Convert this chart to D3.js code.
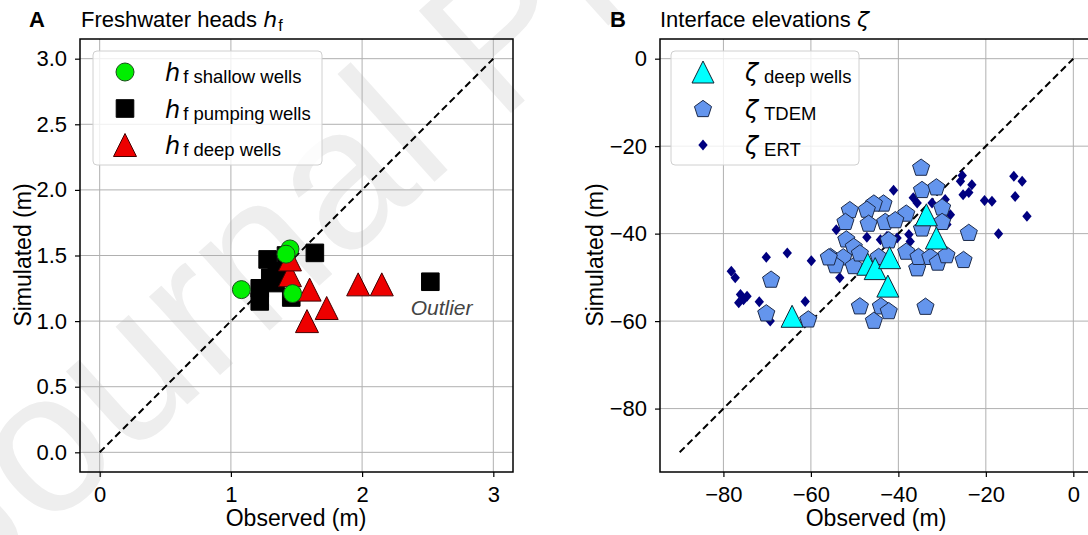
<!DOCTYPE html>
<html><head><meta charset="utf-8">
<script src="https://cdn.jsdelivr.net/npm/d3@7"></script>
<style>body{margin:0;background:#fff;} svg{display:block;font-family:"Liberation Sans",Arial,sans-serif;}</style>
</head><body><svg id="c" width="1088" height="535"></svg>
<script>
// ---- Panel A data: freshwater heads (m) ----
const shallowObs = [1.08, 1.47, 1.45, 1.42];
const shallowSim = [1.24, 1.21, 1.55, 1.51];
const pumpingObs = [1.28, 1.35, 1.22, 1.22, 1.34, 1.46, 1.64, 2.52, 1.30, 1.42];
const pumpingSim = [1.47, 1.38, 1.25, 1.15, 1.29, 1.18, 1.52, 1.30, 1.33, 1.50];
const deepHObs = [1.45, 1.45, 1.60, 1.73, 1.58, 1.97, 2.15];
const deepHSim = [1.35, 1.47, 1.24, 1.10, 1.00, 1.28, 1.28];
const ticksA = [0.0, 0.5, 1.0, 1.5, 2.0, 2.5, 3.0];
const xticksA = [0, 1, 2, 3];

// ---- Panel B data: interface elevations (m) ----
const deepZObs = [-64.3, -47.0, -45.3, -42.0, -42.4, -33.6, -31.3];
const deepZSim = [-58.9, -47.0, -48.0, -45.5, -52.0, -35.7, -41.0];
const tdemObs = [-34.8, -34.6, -31.3, -30.0, -30.0, -38.2, -43.4, -45.6, -47.2, -51.1, -52.1, -46.8, -43.0, -40.7, -34.6, -23.9,
  -51.9, -50.2, -55.5, -52.6, -50.2, -48.8, -38.2, -35.7, -35.4, -32.7, -31.0, -29.0, -25.1, -48.8, -44.0, -42.2, -45.6, -33.8,
  -44.5, -54.4, -42.2, -69.1, -70.2, -60.6, -55.9];
const tdemSim = [-24.8, -29.9, -29.3, -33.9, -37.2, -35.3, -33.0, -33.0, -34.4, -34.5, -37.2, -37.6, -37.2, -36.8, -38.7, -39.7,
  -41.2, -42.9, -45.2, -45.3, -47.3, -44.4, -44.0, -47.8, -45.2, -45.2, -46.5, -44.8, -45.9, -56.5, -56.5, -57.6, -59.8, -56.6,
  -45.2, -47.1, -41.4, -50.4, -58.1, -59.5, -45.3];
const ertObs = [-78.2, -77.3, -70.2, -65.4, -59.9, -76.1, -75.4, -76.5, -74.6, -71.8, -61.3, -69.3,
  -41.1, -36.6, -35.7, -25.4, -25.8, -23.2, -23.9, -25.2, -20.3, -18.6, -13.6, -11.7, -13.3, -10.6, -17.1,
  -54.2, -47.2, -44.1, -42.6, -40.3, -37.6, -37.3, -29.3, -28.1, -28.9, -53.4, -54.0, -32.3];
const ertSim = [-48.6, -50.1, -45.4, -44.4, -46.2, -53.9, -55.1, -55.8, -54.3, -55.6, -55.5, -60.0,
  -30.1, -31.8, -33.0, -26.7, -28.0, -28.8, -30.6, -31.1, -32.4, -32.6, -26.9, -28.0, -31.5, -36.0, -40.0,
  -39.1, -40.8, -41.4, -40.6, -41.0, -40.2, -41.8, -32.2, -35.7, -37.9, -50.1, -47.1, -33.0];
const ticksB = [-80, -60, -40, -20, 0];

const svg = d3.select("#c");
const TFS = 22, LFS = 23;

// watermark
svg.append("text").attr("transform", "translate(-30,600) rotate(-42)")
  .attr("font-size", 200).attr("fill", "#eeeeee").attr("font-family", "Liberation Sans, Arial")
  .text("Journal Pre-proof");

// markers
function tri(s){ return `M0,${-s}L${-s},${s}L${s},${s}Z`; }
function pent(r){ const p=[]; for(let k=0;k<5;k++){ const a=-Math.PI/2+k*2*Math.PI/5; p.push([r*Math.cos(a), r*Math.sin(a)+r*0.095]); } return "M"+p.map(q=>q.join(",")).join("L")+"Z"; }
function sq(s){ return `M${-s},${-s}H${s}V${s}H${-s}Z`; }
function dia(s){ return `M0,${-s}L${s*0.85},0L0,${s}L${-s*0.85},0Z`; }
function circ(r){ return `M${r},0A${r},${r} 0 1,1 ${-r},0A${r},${r} 0 1,1 ${r},0Z`; }

function panel(cfg){
  const x = d3.scaleLinear().domain(cfg.dom).range([cfg.x0, cfg.x0 + 433]);
  const y = d3.scaleLinear().domain(cfg.dom).range([472, 39]);
  const g = svg.append("g");
  const clipId = "clip" + cfg.id;
  g.append("clipPath").attr("id", clipId).append("rect").attr("x", cfg.x0).attr("y", 39).attr("width", 433).attr("height", 433);
  // grid
  g.append("g").selectAll("line").data(cfg.xt).join("line")
    .attr("x1", d => x(d)).attr("x2", d => x(d)).attr("y1", 39).attr("y2", 472)
    .attr("stroke", "#b0b0b0").attr("stroke-width", 1);
  g.append("g").selectAll("line").data(cfg.yt).join("line")
    .attr("y1", d => y(d)).attr("y2", d => y(d)).attr("x1", cfg.x0).attr("x2", cfg.x0 + 433)
    .attr("stroke", "#b0b0b0").attr("stroke-width", 1);
  // axes
  const ax = g.append("g").attr("transform", "translate(0,472)")
    .call(d3.axisBottom(x).tickValues(cfg.xt).tickFormat(cfg.xf).tickSize(5).tickPadding(9));
  const ay = g.append("g").attr("transform", `translate(${cfg.x0},0)`)
    .call(d3.axisLeft(y).tickValues(cfg.yt).tickFormat(cfg.yf).tickSize(5).tickPadding(8));
  [ax, ay].forEach(a => { a.select(".domain").remove(); a.selectAll("text").attr("font-size", TFS).attr("font-family", "Liberation Sans, Arial").attr("fill", "#000"); a.selectAll("line").attr("stroke", "#000").attr("stroke-width", 1.2); });
  ax.selectAll("text").attr("dy", "0.71em");
  // 1:1 line
  const pg = g.append("g").attr("clip-path", `url(#${clipId})`);
  pg.append("line").attr("x1", x(cfg.line[0])).attr("y1", y(cfg.line[0])).attr("x2", x(cfg.line[1])).attr("y2", y(cfg.line[1]))
    .attr("stroke", "#000").attr("stroke-width", 2).attr("stroke-dasharray", "7,4");
  cfg.series.forEach(s => {
    pg.append("g").selectAll("path").data(s.xs.map((v, i) => [v, s.ys[i]])).join("path")
      .attr("transform", d => `translate(${x(d[0])},${y(d[1])})`)
      .attr("d", s.path).attr("fill", s.fill).attr("stroke", s.stroke).attr("stroke-width", s.sw);
  });
  // frame
  g.append("rect").attr("x", cfg.x0).attr("y", 39).attr("width", 433).attr("height", 433)
    .attr("fill", "none").attr("stroke", "#000").attr("stroke-width", 1.5);
  // axis labels
  g.append("text").attr("x", cfg.x0 + 216).attr("y", 526).attr("text-anchor", "middle").attr("font-size", LFS).text("Observed (m)");
  g.append("text").attr("transform", `translate(${cfg.ylx},255) rotate(-90)`).attr("text-anchor", "middle").attr("font-size", LFS).text("Simulated (m)");
  return {x, y, g};
}

const sShallow = {xs: shallowObs, ys: shallowSim, path: circ(9), fill: "#00ee00", stroke: "#1a4d1a", sw: 1};
const sPump = {xs: pumpingObs, ys: pumpingSim, path: sq(8.8), fill: "#000", stroke: "#000", sw: 1};
const sDeepH = {xs: deepHObs, ys: deepHSim, path: tri(11.5), fill: "#ee0000", stroke: "#400", sw: 1};
const A = panel({id: "A", x0: 80, dom: [-0.15, 3.15], xt: xticksA, yt: ticksA, xf: d3.format("d"), yf: d3.format(".1f"),
  line: [0, 3], ylx: 31, series: [sPump, sDeepH, sShallow]});
A.g.append("text").attr("x", A.x(2.37)).attr("y", 315).attr("font-size", 21).attr("font-style", "italic").attr("fill", "#444").text("Outlier");

const sDeepZ = {xs: deepZObs, ys: deepZSim, path: tri(11), fill: "#00ffff", stroke: "#123", sw: 1};
const sTdem = {xs: tdemObs, ys: tdemSim, path: pent(9), fill: "#6495ed", stroke: "#1c2a4a", sw: 1};
const sErt = {xs: ertObs, ys: ertSim, path: dia(5.5), fill: "#000080", stroke: "none", sw: 0};
const minus = d => d < 0 ? "\u2212" + Math.abs(d) : String(d);
const B = panel({id: "B", x0: 660, dom: [-94.5, 4.5], xt: ticksB, yt: ticksB, xf: minus, yf: minus,
  line: [-90, 0], ylx: 603, series: [sErt, sTdem, sDeepZ]});

// titles
function title(xL, xT, main, sym, sub){
  svg.append("text").attr("x", xL).attr("y", 27).attr("font-size", TFS).attr("font-weight", "bold").text(main[0]);
  const t = svg.append("text").attr("x", xT).attr("y", 27).attr("font-size", TFS);
  t.append("tspan").text(main[1] + " ");
  t.append("tspan").attr("font-style", "italic").attr("font-family", "DejaVu Sans").attr("font-size", 22).text(sym);
  if (sub) t.append("tspan").attr("font-size", 16).attr("dy", 4).attr("dx", 1).text(sub);
}
title(29, 81, ["A", "Freshwater heads"], "h", "f");
title(610, 660, ["B", "Interface elevations"], "\u03b6", null);

// legends
function legend(x0, entries, sym){
  svg.append("rect").attr("x", x0).attr("y", 51).attr("width", entries.w).attr("height", 114).attr("rx", 4)
    .attr("fill", "#fff").attr("fill-opacity", 0.8).attr("stroke", "#d0d0d0").attr("stroke-width", 1);
  entries.items.forEach((e, i) => {
    const cy = 72 + i * 36.5;
    svg.append("path").attr("transform", `translate(${x0 + 32},${cy})`).attr("d", e.s.path)
      .attr("fill", e.s.fill).attr("stroke", e.s.stroke).attr("stroke-width", e.s.sw);
    const t = svg.append("text").attr("x", x0 + entries.tx).attr("y", cy + 9).attr("font-size", 18.5);
    t.append("tspan").attr("font-style", "italic").attr("font-family", "DejaVu Sans").attr("font-size", 24).text(sym);
    t.append("tspan").attr("font-size", 18.5).attr("dy", 2).attr("dx", entries.dx).text(e.label);
  });
}
legend(93, {w: 229, tx: 72, dx: 3, items: [{s: sShallow, label: "f shallow wells"}, {s: sPump, label: "f pumping wells"}, {s: sDeepH, label: "f deep wells"}]}, "h");
legend(671, {w: 188, tx: 74, dx: 6, items: [{s: sDeepZ, label: "deep wells"}, {s: sTdem, label: "TDEM"}, {s: sErt, label: "ERT"}]}, "\u03b6");
</script></body></html>
